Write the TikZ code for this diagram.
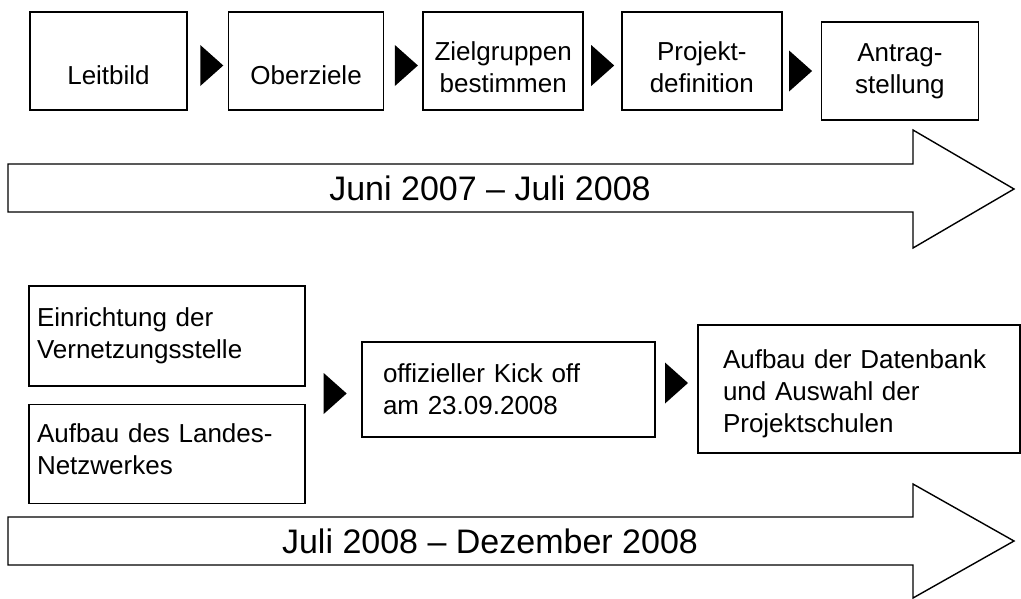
\documentclass[tikz,border=0pt]{standalone}
\usepackage{fontspec}
\setmainfont{Liberation Sans}
\usetikzlibrary{positioning}
\usetikzlibrary{shapes.geometric}

\tikzset{
  stepbox/.style={draw, line width=1.6pt, minimum width=157pt, minimum height=98pt,
    inner sep=0pt, align=center, font=\fontsize{26}{32}\selectfont},
  notebox/.style={draw, line width=1.6pt, align=left, font=\fontsize{26}{32}\selectfont},
  flowtip/.style={isosceles triangle, isosceles triangle stretches, fill=black,
    inner sep=0pt, minimum width=41pt, minimum height=23pt},
  timeline/.style={draw=black, fill=white, line width=1.4pt},
  timetext/.style={font=\fontsize{34}{40}\selectfont}
}

\begin{document}
\begin{tikzpicture}[x=1pt, y=-1pt]
    \useasboundingbox (0,0) rectangle (1021,598);

    % first phase
    \node(leitbild) [stepbox, text height=46pt, text depth=0pt] at (108.5,61) {Leitbild};
    \node(oberziele) [stepbox, minimum width=155pt, text height=46pt, text depth=0pt, right=40pt of leitbild] {Oberziele};
    \node(zielgruppen) [stepbox, minimum width=160pt, text height=63pt, text depth=0pt, right=38pt of oberziele] {Zielgruppen\\bestimmen};
    \node(projekt) [stepbox, minimum width=160pt, text height=63pt, text depth=0pt, right=37pt of zielgruppen] {Projekt-\\definition};
    \node(antrag) [stepbox, right=38pt of projekt, yshift=-10pt] {Antrag-\\stellung};

    \node(t1) [flowtip, left=4pt of oberziele, yshift=-4.5pt] {};
    \node(t2) [flowtip, left=4pt of zielgruppen, yshift=-4.5pt] {};
    \node(t3) [flowtip, right=7pt of zielgruppen, yshift=-4.5pt] {};
    \node(t4) [flowtip, left=8pt of antrag] {};

    \draw[timeline] (8,164) -- (913,164) -- (913,130) -- (1014,189) -- (913,248) -- (913,212) -- (8,212) -- cycle;
    \node(phase1) [timetext] at (490,188) {Juni 2007 – Juli 2008};

    % second phase
    \node(stelle) [notebox, text width=260pt, inner xsep=8pt, minimum height=100pt] at (167,336) {Einrichtung der\\Vernetzungsstelle};
    \node(netzwerk) [notebox, text width=260pt, inner xsep=8pt, minimum height=99pt, text depth=42pt, below=17pt of stelle] {Aufbau des Landes-\\Netzwerkes};
    \node(kickoff) [notebox, text width=251pt, inner xsep=21pt, minimum height=95pt] at (508.5,389.5) {offizieller Kick off\\am 23.09.2008};
    \node(datenbank) [notebox, text width=272pt, inner xsep=25pt, minimum height=128pt, text height=29pt] at (859,389) {Aufbau der Datenbank\\und Auswahl der\\Projektschulen};

    \node(t5) [flowtip, left=14pt of kickoff, yshift=-4pt] {};
    \node(t6) [flowtip, right=9pt of kickoff, yshift=6.5pt] {};

    \draw[timeline] (8,517) -- (913,517) -- (913,484) -- (1014,541) -- (913,598) -- (913,565) -- (8,565) -- cycle;
    \node(phase2) [timetext] at (490,541) {Juli 2008 – Dezember 2008};
\end{tikzpicture}
\end{document}
